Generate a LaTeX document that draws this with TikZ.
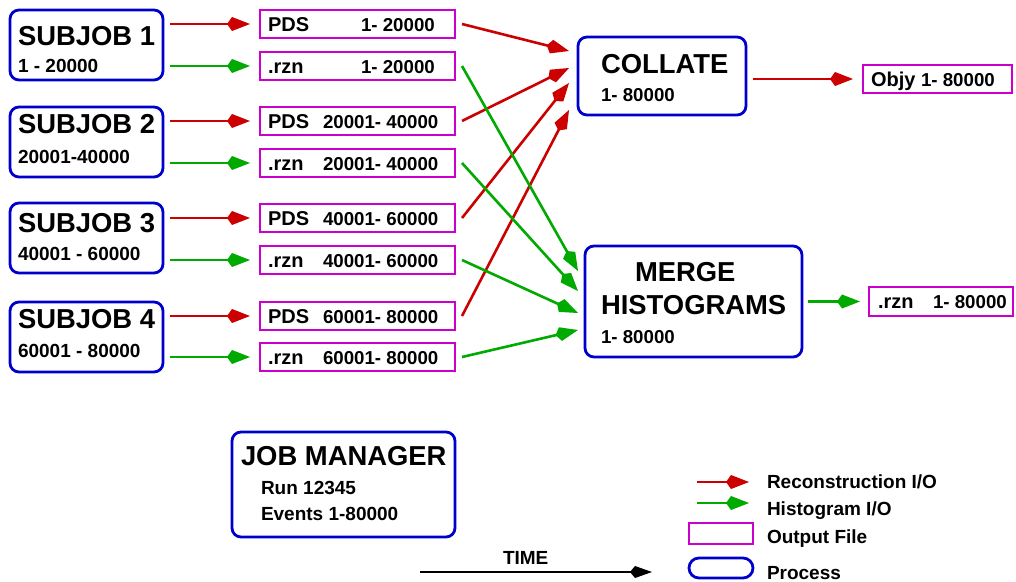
\documentclass[tikz,border=0pt]{standalone}
\usepackage{fontspec}
\setmainfont{Liberation Sans}
\usetikzlibrary{arrows.meta,calc}
\definecolor{rd}{RGB}{204,0,0}
\definecolor{gn}{RGB}{0,170,0}
\definecolor{bl}{RGB}{0,0,204}
\definecolor{mg}{RGB}{204,0,204}
\begin{document}
\begin{tikzpicture}[x=1pt,y=-1pt,
  every node/.style={inner sep=0pt, outer sep=0pt},
  proc/.style={draw=bl, line width=2.8pt, rounded corners=9pt},
  file/.style={draw=mg, line width=2.8pt},
  ttl/.style={anchor=base west, font=\bfseries\fontsize{27.4}{32}\selectfont},
  ext/.style={anchor=base west, font=\bfseries\fontsize{20}{24}\selectfont},
  lbl/.style={anchor=base west, font=\bfseries\fontsize{18.7}{22}\selectfont},
  sub/.style={anchor=base west, font=\bfseries\fontsize{19}{22}\selectfont},
  rec/.style={draw=rd, line width=2.6pt, -{Kite[length=23pt,width=14pt,inset=5pt]}},
  his/.style={draw=gn, line width=2.6pt, -{Kite[length=23pt,width=14pt,inset=5pt]}},
  tim/.style={draw=black, line width=1.5pt, -{Kite[length=22pt,width=12pt,inset=5pt]}}
]
\useasboundingbox (0,0) rectangle (1016,581);

% subjobs
\node[proc, minimum width=153pt, minimum height=70pt] (sj1) at (86.5,45) {};
\node[proc, minimum width=153pt, minimum height=70pt] (sj2) at (86.5,142) {};
\node[proc, minimum width=153pt, minimum height=70pt] (sj3) at (86.5,238) {};
\node[proc, minimum width=153pt, minimum height=70pt] (sj4) at (86.5,337) {};
\node[ttl] (sj1t) at (18,45) {SUBJOB 1};
\node[sub] (sj1s) at (18,72) {1 - 20000};
\node[ttl] (sj2t) at (18,133) {SUBJOB 2};
\node[sub] (sj2s) at (18,163) {20001-40000};
\node[ttl] (sj3t) at (18,232) {SUBJOB 3};
\node[sub] (sj3s) at (18,260) {40001 - 60000};
\node[ttl] (sj4t) at (18,328) {SUBJOB 4};
\node[sub] (sj4s) at (18,357) {60001 - 80000};

% files
\node[file, minimum width=195pt, minimum height=28pt] (pds1) at (357.5,24) {};
\node[file, minimum width=195pt, minimum height=28pt] (rzn1) at (357.5,66) {};
\node[file, minimum width=195pt, minimum height=28pt] (pds2) at (357.5,121) {};
\node[file, minimum width=195pt, minimum height=28pt] (rzn2) at (357.5,163) {};
\node[file, minimum width=195pt, minimum height=28pt] (pds3) at (357.5,218) {};
\node[file, minimum width=195pt, minimum height=28pt] (rzn3) at (357.5,260) {};
\node[file, minimum width=195pt, minimum height=28pt] (pds4) at (357.5,316) {};
\node[file, minimum width=195pt, minimum height=28pt] (rzn4) at (357.5,357) {};
\node[ext] (pds1a) at (268,31) {PDS};   \node[lbl] (pds1b) at (361,31) {1- 20000};
\node[ext] (rzn1a) at (268,73) {.rzn};  \node[lbl] (rzn1b) at (361,73) {1- 20000};
\node[ext] (pds2a) at (268,128) {PDS};  \node[lbl] (pds2b) at (323,128) {20001- 40000};
\node[ext] (rzn2a) at (268,170) {.rzn}; \node[lbl] (rzn2b) at (323,170) {20001- 40000};
\node[ext] (pds3a) at (268,225) {PDS};  \node[lbl] (pds3b) at (323,225) {40001- 60000};
\node[ext] (rzn3a) at (268,267) {.rzn}; \node[lbl] (rzn3b) at (323,267) {40001- 60000};
\node[ext] (pds4a) at (268,323) {PDS};  \node[lbl] (pds4b) at (323,323) {60001- 80000};
\node[ext] (rzn4a) at (268,364) {.rzn}; \node[lbl] (rzn4b) at (323,364) {60001- 80000};

% collate / merge
\node[proc, minimum width=168pt, minimum height=78pt] (col) at (662,76) {};
\node[ttl] (colt) at (601,73) {COLLATE};
\node[lbl] (cols) at (601,101) {1- 80000};
\node[proc, minimum width=217pt, minimum height=111pt] (mrg) at (693.5,301.5) {};
\node[ttl] (mrgt1) at (635,281) {MERGE};
\node[ttl] (mrgt2) at (601,314) {HISTOGRAMS};
\node[lbl] (mrgs) at (601,343) {1- 80000};

% outputs
\node[file, minimum width=149pt, minimum height=28pt] (objy) at (937.5,79) {};
\node[ext] (objyt) at (871,86) {Objy \fontsize{18.7}{22}\selectfont 1- 80000};
\node[file, minimum width=144pt, minimum height=29pt] (rzno) at (941,301.5) {};
\node[ext] (rznoa) at (878,308) {.rzn};
\node[lbl] (rznob) at (933,308) {1- 80000};

% job manager
\node[proc, minimum width=223pt, minimum height=105pt] (jm) at (343.5,484.5) {};
\node[ttl] (jmt) at (241,465) {JOB MANAGER};
\node[sub] (jm1) at (261,494) {Run 12345};
\node[sub] (jm2) at (261,520) {Events 1-80000};

% subjob -> files
\foreach \s/\p/\r in {sj1/pds1/rzn1, sj2/pds2/rzn2, sj3/pds3/rzn3, sj4/pds4/rzn4}{
  \draw[rec] ($(\s.east |- \p.west)+(7,0)$) -- ($(\p.west)+(-10,0)$);
  \draw[his] ($(\s.east |- \r.west)+(7,0)$) -- ($(\r.west)+(-10,0)$);
}

% files -> collate
\draw[rec] ($(pds1.east)+(7,0)$) -- ($(col.west)+(-9,-25)$);
\draw[rec] ($(pds2.east)+(7,0)$) -- ($(col.west)+(-9,-8)$);
\draw[rec] ($(pds3.east)+(7,0)$) -- ($(col.west)+(-9,7)$);
\draw[rec] ($(pds4.east)+(7,0)$) -- ($(col.west)+(-9,34)$);

% files -> merge
\draw[his] ($(rzn1.east)+(7,0)$) -- ($(mrg.west)+(-7,-30.5)$);
\draw[his] ($(rzn2.east)+(7,0)$) -- ($(mrg.west)+(-7,-10.5)$);
\draw[his] ($(rzn3.east)+(7,0)$) -- ($(mrg.west)+(-7,11.5)$);
\draw[his] ($(rzn4.east)+(7,0)$) -- ($(mrg.west)+(-7,28.5)$);

% outputs
\draw[rec] ($(col.east |- objy.west)+(7,0)$) -- ($(objy.west)+(-10,0)$);
\draw[his] ($(mrg.east)+(6,0)$) -- ($(rzno.west)+(-9,0)$);

% legend
\coordinate (lr1) at (697,482); \coordinate (lr2) at (749,482);
\coordinate (lg1) at (697,503); \coordinate (lg2) at (749,503);
\draw[rec] (lr1) -- (lr2);
\draw[his] (lg1) -- (lg2);
\node[file, minimum width=64pt, minimum height=21pt] (lfile) at (721,533.5) {};
\node[proc, rounded corners=10pt, minimum width=64pt, minimum height=20pt] (lproc) at (721,568) {};
\node[sub] (lt1) at (767,488) {Reconstruction I/O};
\node[sub] (lt2) at (767,515) {Histogram I/O};
\node[sub] (lt3) at (767,543) {Output File};
\node[sub] (lt4) at (767,579) {Process};

% time
\coordinate (t1) at (420,572); \coordinate (t2) at (652,572);
\draw[tim] (t1) -- (t2);
\node[sub] (tt) at (503,564) {TIME};
\end{tikzpicture}
\end{document}
